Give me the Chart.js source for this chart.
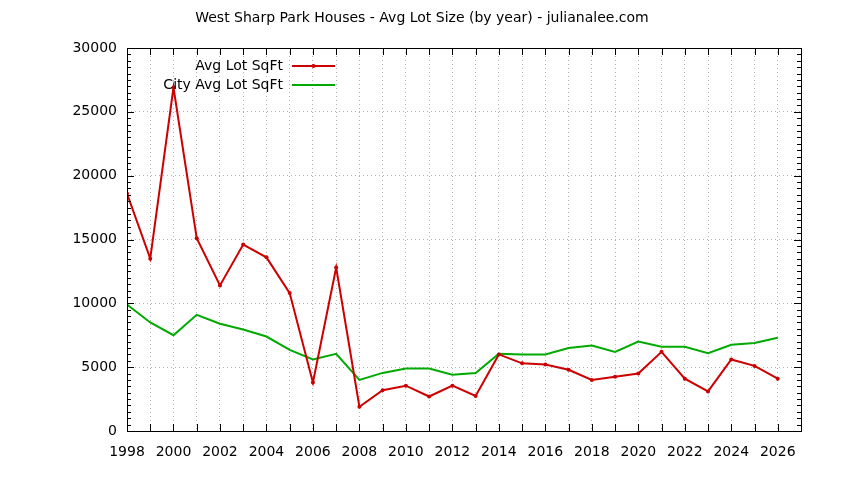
<!DOCTYPE html>
<html>
<head>
<meta charset="utf-8">
<script src="https://cdn.jsdelivr.net/npm/chart.js@4"></script>
<style>
  html, body { margin: 0; padding: 0; background: #fff; }
  #wrap { width: 844px; height: 480px; }
</style>
</head>
<body>
<div id="wrap"><canvas id="lotChart" width="844" height="480"></canvas></div>
<script>
// 데이터
const years = [1998, 1999, 2000, 2001, 2002, 2003, 2004, 2005, 2006, 2007, 2008, 2009, 2010, 2011,
    2012, 2013, 2014, 2015, 2016, 2017, 2018, 2019, 2020, 2021, 2022, 2023, 2024, 2025, 2026];
const avgLot = [18600, 13500, 26900, 15100, 11400, 14600, 13600, 10800, 3800, 12800, 1900, 3200, 3550, 2700,
    3550, 2750, 6000, 5300, 5200, 4800, 4000, 4250, 4500, 6200, 4100, 3100, 5600, 5100, 4100];
const cityAvgLot = [9900, 8500, 7500, 9100, 8400, 7950, 7400, 6350, 5600, 6050, 4000, 4550, 4900, 4900,
    4400, 4550, 6050, 6000, 6000, 6500, 6700, 6200, 7000, 6600, 6600, 6100, 6750, 6900, 7300];
const seriesNames = ['Avg Lot SqFt', 'City Avg Lot SqFt'];
const chartTitle = 'West Sharp Park Houses - Avg Lot Size (by year) - julianalee.com';

const FONT = 'DejaVu Sans';

// 안쪽 눈금, 테두리, 제목, 범례 (gnuplot 스타일)
const gnuplotLook = {
    id: 'gnuplotLook',
    afterDraw(chart) {
        const ctx = chart.ctx;
        const a = chart.chartArea;
        const xs = chart.scales.x;
        const ys = chart.scales.y;
        ctx.save();
        ctx.strokeStyle = '#000';
        ctx.lineWidth = 1;
        ctx.beginPath();
        // x 눈금: 매년
        for (let yr = 1998; yr <= 2027; yr++) {
            const px = Math.round(xs.getPixelForValue(yr)) + 0.5;
            ctx.moveTo(px, a.bottom); ctx.lineTo(px, a.bottom - 7);
            ctx.moveTo(px, a.top); ctx.lineTo(px, a.top + 7);
        }
        // y 눈금: 500 단위
        for (let v = 0; v <= 30000; v += 500) {
            const py = Math.round(ys.getPixelForValue(v)) + 0.5;
            const len = v % 5000 === 0 ? 7 : 4;
            ctx.moveTo(a.left, py); ctx.lineTo(a.left + len, py);
            ctx.moveTo(a.right, py); ctx.lineTo(a.right - len, py);
        }
        ctx.stroke();
        ctx.strokeRect(Math.round(a.left) + 0.5, Math.round(a.top) + 0.5,
            Math.round(a.right - a.left), Math.round(a.bottom - a.top));

        // 제목
        ctx.fillStyle = '#000';
        ctx.font = '14px "' + FONT + '"';
        ctx.textAlign = 'center';
        ctx.textBaseline = 'middle';
        ctx.fillText(chartTitle, chart.width / 2, 18);

        // 범례
        ctx.font = '14px "' + FONT + '"';
        ctx.textAlign = 'right';
        const rows = [66, 85];
        chart.data.datasets.forEach((ds, i) => {
            const y = rows[i];
            ctx.fillStyle = '#000';
            ctx.fillText(ds.label, 283, y);
            ctx.strokeStyle = ds.borderColor;
            ctx.lineWidth = 2;
            ctx.beginPath();
            ctx.moveTo(292, y); ctx.lineTo(335, y);
            ctx.stroke();
            if (ds.pointRadius > 0) {
                ctx.fillStyle = ds.borderColor;
                ctx.beginPath();
                ctx.arc(313.5, y, ds.pointRadius, 0, Math.PI * 2);
                ctx.fill();
            }
        });
        ctx.restore();
    }
};

const lotData = {
    datasets: [
        {
            label: seriesNames[0],
            data: years.map((yr, i) => ({ x: yr, y: avgLot[i] })),
            borderColor: '#cc0000',
            backgroundColor: '#cc0000',
            borderWidth: 2,
            pointRadius: 2,
            pointBorderWidth: 0,
            tension: 0,
            fill: false,
        },
        {
            label: seriesNames[1],
            data: years.map((yr, i) => ({ x: yr, y: cityAvgLot[i] })),
            borderColor: '#00aa00',
            backgroundColor: '#00aa00',
            borderWidth: 2,
            pointRadius: 0,
            tension: 0,
            fill: false,
        }
    ]
};

const lotConfig = {
    type: 'line',
    data: lotData,
    options: {
        responsive: false,
        animation: false,
        layout: {
            padding: { top: 48, right: 43, left: 0, bottom: 0 }
        },
        plugins: {
            legend: { display: false },
            title: { display: false },
            tooltip: { enabled: false },
        },
        scales: {
            x: {
                type: 'linear',
                min: 1998,
                max: 2027,
                afterFit: (scale) => { scale.height = 49; },
                grid: {
                    color: '#b4b4b4',
                    lineWidth: 1,
                    drawTicks: false,
                },
                border: { display: false, dash: [1, 3] },
                ticks: {
                    stepSize: 1,
                    autoSkip: false,
                    maxRotation: 0,
                    padding: 13,
                    color: '#000',
                    font: { family: FONT, size: 14 },
                    callback: (v) => (v % 2 === 0 && v < 2027) ? String(v) : '',
                },
            },
            y: {
                min: 0,
                max: 30000,
                afterFit: (scale) => { scale.width = 127; },
                grid: {
                    color: '#b4b4b4',
                    lineWidth: 1,
                    drawTicks: false,
                },
                border: { display: false, dash: [1, 3] },
                ticks: {
                    stepSize: 5000,
                    padding: 10,
                    color: '#000',
                    font: { family: FONT, size: 14 },
                    callback: (v) => String(v),
                },
            },
        },
    },
    plugins: [gnuplotLook],
};

var ctx1 = document.getElementById('lotChart').getContext('2d');
var lotChart = new Chart(ctx1, lotConfig);
</script>
</body>
</html>
